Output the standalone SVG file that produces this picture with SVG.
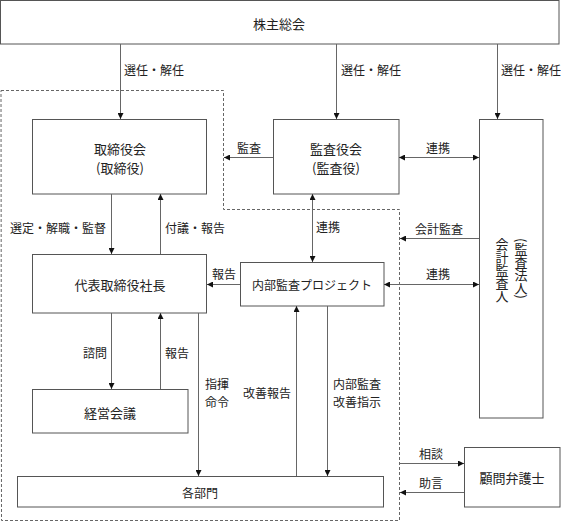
<svg xmlns="http://www.w3.org/2000/svg" width="561" height="522" viewBox="0 0 561 522">
<style>
.box{fill:#fff;stroke:#555;stroke-width:1}
.ln{stroke:#666;stroke-width:1;fill:none}
.dash{fill:none;stroke:#666;stroke-width:1;stroke-dasharray:3,2}
text{font-family:"Noto Sans CJK JP","Noto Sans CJK SC",sans-serif;fill:#222}
.t,.s,.lb{dominant-baseline:central}
.t{font-size:13px;text-anchor:middle}
.s{font-size:12px;text-anchor:middle}
.lb{font-size:12px}
.v{font-size:13px;writing-mode:vertical-rl;text-orientation:mixed}
</style>
<defs>
<marker id="ah" viewBox="0 0 6 6" refX="6" refY="3" markerWidth="6" markerHeight="6" markerUnits="userSpaceOnUse" orient="auto-start-reverse">
<path d="M0,0 L6,3 L0,6 z" fill="#111"/>
</marker>
</defs>
<path class="dash" d="M1,90.5 H223.5 V209.5 H399.5 V520.5 H1.5 Z"/>
<g id="kabunushi"><rect class="box" x="0.5" y="0.5" width="558.5" height="43.5"/><text class="t" x="279" y="23">株主総会</text></g>
<g id="torishimariyakukai"><rect class="box" x="32.5" y="119.5" width="174" height="74.5"/><text class="t" x="120" y="148">取締役会</text><text class="t" x="120" y="167">(取締役)</text></g>
<g id="kansayakukai"><rect class="box" x="273.5" y="119.5" width="125.5" height="74.5"/><text class="t" x="336" y="148">監査役会</text><text class="t" x="336" y="167">(監査役)</text></g>
<g id="kaikeikansanin"><rect class="box" x="479.5" y="119.5" width="63.5" height="298.5"/><text class="v" x="521" y="238">(監査法人)</text><text class="v" x="502" y="238">会計監査人</text></g>
<g id="shacho"><rect class="box" x="32.5" y="254.5" width="174" height="58.5"/><text class="t" x="120" y="284">代表取締役社長</text></g>
<g id="naibukansa"><rect class="box" x="240.5" y="262.5" width="143.5" height="43.5"/><text class="s" x="312" y="284">内部監査プロジェクト</text></g>
<g id="keieikaigi"><rect class="box" x="32.5" y="389.5" width="155.5" height="43.5"/><text class="t" x="110" y="412">経営会議</text></g>
<g id="kakubumon"><rect class="box" x="17.5" y="476.5" width="366" height="30.5"/><text class="s" x="200" y="492">各部門</text></g>
<g id="komon"><rect class="box" x="464.5" y="447.5" width="95.5" height="59.5"/><text class="t" x="512" y="477">顧問弁護士</text></g>
<g id="connectors">
<line class="ln" x1="120.5" y1="44" x2="120.5" y2="119" marker-end="url(#ah)"/>
<line class="ln" x1="336.5" y1="44" x2="336.5" y2="119" marker-end="url(#ah)"/>
<line class="ln" x1="497.5" y1="44" x2="497.5" y2="119" marker-end="url(#ah)"/>
<line class="ln" x1="111.5" y1="194" x2="111.5" y2="254" marker-end="url(#ah)"/>
<line class="ln" x1="160.5" y1="254" x2="160.5" y2="194" marker-end="url(#ah)"/>
<line class="ln" x1="273" y1="157.5" x2="224" y2="157.5" marker-end="url(#ah)"/>
<line class="ln" x1="399" y1="157.5" x2="479" y2="157.5" marker-start="url(#ah)" marker-end="url(#ah)"/>
<line class="ln" x1="312.5" y1="194" x2="312.5" y2="262" marker-start="url(#ah)" marker-end="url(#ah)"/>
<line class="ln" x1="479" y1="238.5" x2="400" y2="238.5" marker-end="url(#ah)"/>
<line class="ln" x1="240" y1="284.5" x2="207" y2="284.5" marker-end="url(#ah)"/>
<line class="ln" x1="384" y1="284.5" x2="479" y2="284.5" marker-start="url(#ah)" marker-end="url(#ah)"/>
<line class="ln" x1="111.5" y1="313" x2="111.5" y2="389" marker-end="url(#ah)"/>
<line class="ln" x1="160.5" y1="389" x2="160.5" y2="313" marker-end="url(#ah)"/>
<line class="ln" x1="198.5" y1="313" x2="198.5" y2="476" marker-end="url(#ah)"/>
<line class="ln" x1="296.5" y1="476" x2="296.5" y2="306" marker-end="url(#ah)"/>
<line class="ln" x1="327.5" y1="306" x2="327.5" y2="476" marker-end="url(#ah)"/>
<line class="ln" x1="400" y1="463.5" x2="464" y2="463.5" marker-end="url(#ah)"/>
<line class="ln" x1="464" y1="492.5" x2="400" y2="492.5" marker-end="url(#ah)"/>
<text class="lb" x="124" y="69">選任・解任</text>
<text class="lb" x="341" y="69">選任・解任</text>
<text class="lb" x="501" y="69">選任・解任</text>
<text class="lb" x="237" y="147">監査</text>
<text class="lb" x="426" y="147">連携</text>
<text class="lb" x="10" y="227">選定・解職・監督</text>
<text class="lb" x="165" y="227">付議・報告</text>
<text class="lb" x="316" y="226">連携</text>
<text class="lb" x="415" y="228">会計監査</text>
<text class="lb" x="212" y="273">報告</text>
<text class="lb" x="426" y="273">連携</text>
<text class="lb" x="83" y="352">諮問</text>
<text class="lb" x="165" y="352">報告</text>
<text class="lb" x="205" y="383">指揮</text>
<text class="lb" x="205" y="401">命令</text>
<text class="lb" x="243" y="392">改善報告</text>
<text class="lb" x="333" y="383">内部監査</text>
<text class="lb" x="333" y="401">改善指示</text>
<text class="lb" x="419" y="453">相談</text>
<text class="lb" x="419" y="482">助言</text>
</g>
</svg>
